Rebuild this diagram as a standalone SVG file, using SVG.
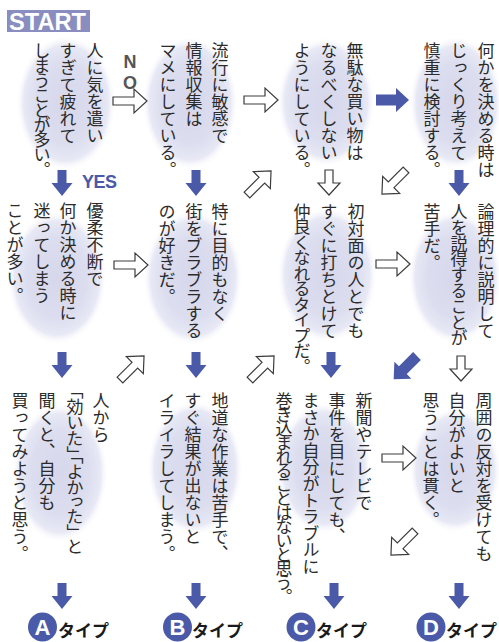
<svg xmlns="http://www.w3.org/2000/svg" width="499" height="642" viewBox="0 0 499 642">
<style>
.v{writing-mode:vertical-rl;font-family:"Noto Sans CJK JP","Noto Sans CJK SC",sans-serif;font-size:17px;fill:#2b2b2b}
.hollow{fill:#fff;stroke:#3c3c3c;stroke-width:1.2}
.blue{fill:#4a5aa8}
.lbl{font-family:"Liberation Sans",Arial,sans-serif;font-weight:bold}
.tl{font-family:"Noto Sans CJK JP",sans-serif;font-weight:bold;font-size:17px;fill:#1a1a1a}
.cl{font-family:"Liberation Sans",Arial,sans-serif;font-weight:bold;font-size:22px;fill:#fff;text-anchor:middle}
</style>
<defs>
<radialGradient id="glow">
<stop offset="0" stop-color="#d6d7eb"/>
<stop offset="0.6" stop-color="#dcddef"/>
<stop offset="0.85" stop-color="#e8e9f5"/>
<stop offset="1" stop-color="#ffffff" stop-opacity="0"/>
</radialGradient>
<path id="hr" d="M0,-4 H21 V-12 L34,0 L21,12 V4 H0 Z"/>
<path id="hd" d="M0,-4 H13 V-11 L25,0 L13,11 V4 H0 Z"/>
<path id="br" d="M0,-5.5 H20 V-12 L33,0 L20,12 V5.5 H0 Z"/>
<path id="bd" d="M0,-4.5 H13 V-10.5 L26,0 L13,10.5 V4.5 H0 Z"/>
</defs>
<rect width="499" height="642" fill="#fff"/>

<g id="start">
<rect x="7" y="10" width="83" height="22" fill="#8a8dbf"/>
<text x="9" y="30" class="lbl" font-size="23" fill="#fff" textLength="77" lengthAdjust="spacingAndGlyphs">START</text>
</g>

<g id="q1">
<ellipse cx="66" cy="103" rx="50" ry="68" fill="url(#glow)"/>
<text class="v" x="95" y="42">人に気を遣い</text>
<text class="v" x="68" y="42">すぎて疲れて</text>
<text class="v" x="42" y="42" letter-spacing="-2.1">しまうことが多い。</text>
</g>
<g id="q2">
<ellipse cx="190" cy="103" rx="48" ry="67" fill="url(#glow)"/>
<text class="v" x="220" y="42">流行に敏感で</text>
<text class="v" x="194" y="42">情報収集は</text>
<text class="v" x="168" y="42">マメにしている。</text>
</g>
<g id="q3">
<ellipse cx="326" cy="102" rx="49" ry="65" fill="url(#glow)"/>
<text class="v" x="355" y="42">無駄な買い物は</text>
<text class="v" x="329" y="42">なるべくしない</text>
<text class="v" x="302" y="42">ようにしている。</text>
</g>
<g id="q4">
<ellipse cx="456" cy="103" rx="47" ry="67" fill="url(#glow)"/>
<text class="v" x="486" y="42">何かを決める時は</text>
<text class="v" x="459" y="42">じっくり考えて</text>
<text class="v" x="432" y="42">慎重に検討する。</text>
</g>

<g id="q5">
<ellipse cx="57" cy="278" rx="50" ry="67" fill="url(#glow)"/>
<text class="v" x="95" y="202">優柔不断で</text>
<text class="v" x="68" y="202">何か決める時に</text>
<text class="v" x="42" y="202">迷ってしまう</text>
<text class="v" x="15" y="202">ことが多い。</text>
</g>
<g id="q6">
<ellipse cx="193" cy="278" rx="50" ry="68" fill="url(#glow)"/>
<text class="v" x="220" y="203">特に目的もなく</text>
<text class="v" x="194" y="203">街をブラブラする</text>
<text class="v" x="167" y="203">のが好きだ。</text>
</g>
<g id="q7">
<ellipse cx="327" cy="275" rx="50" ry="68" fill="url(#glow)"/>
<text class="v" x="356" y="203">初対面の人とでも</text>
<text class="v" x="329" y="203">すぐに打ちとけて</text>
<text class="v" x="302" y="203" letter-spacing="-1.5">仲良くなれるタイプだ。</text>
</g>
<g id="q8">
<ellipse cx="455" cy="277" rx="47" ry="67" fill="url(#glow)"/>
<text class="v" x="486" y="203">論理的に説明して</text>
<text class="v" x="459" y="203" letter-spacing="-1.2">人を説得することが</text>
<text class="v" x="432" y="203">苦手だ。</text>
</g>

<g id="q9">
<ellipse cx="60" cy="473" rx="48" ry="70" fill="url(#glow)"/>
<text class="v" x="101" y="392">人から</text>
<text class="v" x="75" y="390" style="font-feature-settings:'vpal'">「効いた」「よかった」<tspan dy="6">と</tspan></text>
<text class="v" x="47" y="392">聞くと、自分も</text>
<text class="v" x="20" y="392">買ってみようと思う。</text>
</g>
<g id="q10">
<ellipse cx="195" cy="468" rx="48" ry="68" fill="url(#glow)"/>
<text class="v" x="220" y="392">地道な作業は苦手で、</text>
<text class="v" x="193" y="392">すぐ結果が出ないと</text>
<text class="v" x="167" y="392">イライラしてしまう。</text>
</g>
<g id="q11">
<ellipse cx="324" cy="468" rx="48" ry="66" fill="url(#glow)"/>
<text class="v" x="364" y="392">新聞やテレビで</text>
<text class="v" x="337" y="392">事件を目にしても、</text>
<text class="v" x="311" y="392" letter-spacing="-0.4">まさか自分がトラブルに</text>
<text class="v" x="284" y="392" letter-spacing="-3">巻き込まれることはないと思う。</text>
</g>
<g id="q12">
<ellipse cx="455" cy="470" rx="46" ry="63" fill="url(#glow)"/>
<text class="v" x="484" y="392">周囲の反対を受けても</text>
<text class="v" x="457" y="392">自分がよいと</text>
<text class="v" x="431" y="392">思うことは貫く。</text>
</g>

<g id="typeA">
<circle cx="42.5" cy="627" r="14.5" class="blue"/>
<text x="42.5" y="635" class="cl">A</text>
<text x="58" y="637" class="tl">タイプ</text>
</g>
<g id="typeB">
<circle cx="177.5" cy="627" r="14.5" class="blue"/>
<text x="177.5" y="635" class="cl">B</text>
<text x="192" y="637" class="tl">タイプ</text>
</g>
<g id="typeC">
<circle cx="301" cy="627" r="14.5" class="blue"/>
<text x="301" y="635" class="cl">C</text>
<text x="316" y="637" class="tl">タイプ</text>
</g>
<g id="typeD">
<circle cx="431" cy="627" r="14.5" class="blue"/>
<text x="431" y="635" class="cl">D</text>
<text x="446" y="637" class="tl">タイプ</text>
</g>

<g id="connectors">
<g class="hollow">
<use href="#hr" transform="translate(113,101)"/>
<use href="#hr" transform="translate(244,100)"/>
<use href="#hr" transform="translate(114,265)"/>
<use href="#hr" transform="translate(376,264)"/>
<use href="#hr" transform="translate(382,458)"/>
<use href="#hd" transform="translate(329,170) rotate(90)"/>
<use href="#hd" transform="translate(461,356) rotate(90)"/>
<use href="#hr" transform="translate(247,195) rotate(-45)"/>
<use href="#hr" transform="translate(120,380) rotate(-45)"/>
<use href="#hr" transform="translate(250,380) rotate(-45)"/>
<use href="#hr" transform="translate(406,170) rotate(135)"/>
<use href="#hr" transform="translate(415,531) rotate(135)"/>
</g>
<g class="blue">
<use href="#br" transform="translate(376,100)"/>
<use href="#br" transform="translate(417,356) rotate(135)"/>
<use href="#bd" transform="translate(62,170) rotate(90)"/>
<use href="#bd" transform="translate(196,170) rotate(90)"/>
<use href="#bd" transform="translate(459,170) rotate(90)"/>
<use href="#bd" transform="translate(62,352) rotate(90)"/>
<use href="#bd" transform="translate(196,352) rotate(90)"/>
<use href="#bd" transform="translate(331,352) rotate(90)"/>
<use href="#bd" transform="translate(62,583) rotate(90)"/>
<use href="#bd" transform="translate(196,583) rotate(90)"/>
<use href="#bd" transform="translate(334,583) rotate(90)"/>
<use href="#bd" transform="translate(459,583) rotate(90)"/>
</g>
<text x="130" y="68" class="lbl" font-size="18" fill="#555" text-anchor="middle">N</text>
<text x="130" y="89" class="lbl" font-size="18" fill="#555" text-anchor="middle">O</text>
<text x="82" y="188" class="lbl" font-size="18" fill="#4a5aa8" letter-spacing="-0.5">YES</text>
</g>
</svg>
